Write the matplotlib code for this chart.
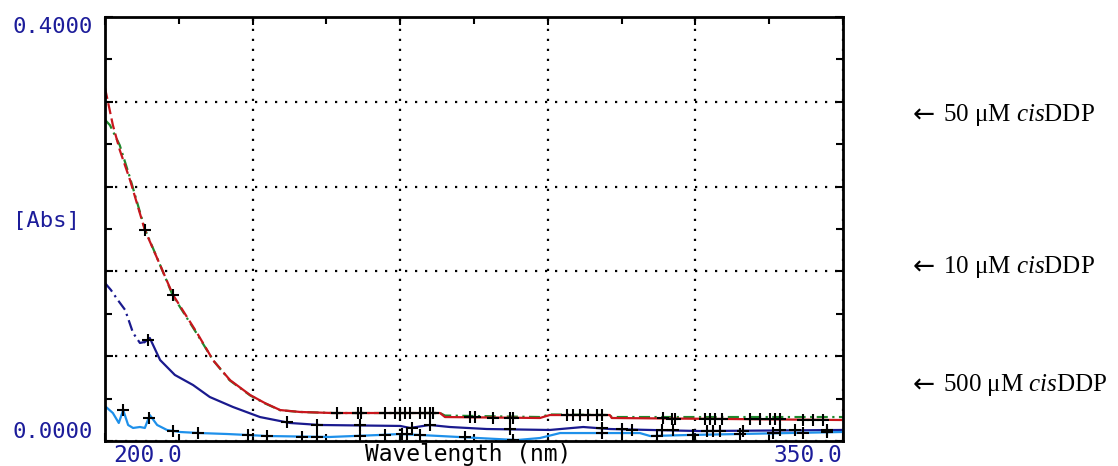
import numpy as np
import matplotlib
matplotlib.use('Agg')
import matplotlib.pyplot as plt

plt.rcParams['mathtext.fontset'] = 'custom'
plt.rcParams['mathtext.rm'] = 'Liberation Serif'
plt.rcParams['mathtext.it'] = 'Liberation Serif:italic'

# 50 uM cisDDP (red, and the green repeat underneath)
red_wl = [200.0, 200.6, 201.6, 203.0, 205.1, 208.1, 211.2, 213.8, 218.7, 222.0, 225.4, 229.5,
          232.5, 235.6, 239.6, 246.3, 268.1, 269.1, 288.4, 290.4, 302.6, 303.0, 350.0]
red_abs = [0.333, 0.320, 0.298, 0.2745, 0.246, 0.199, 0.166, 0.138, 0.102, 0.076, 0.0575, 0.0434,
           0.0358, 0.0292, 0.0274, 0.0264, 0.0264, 0.0226, 0.0217, 0.0245, 0.0245, 0.0217, 0.0198]
green_wl = [200.0, 201.0, 203.0, 205.1, 208.1, 211.2, 213.8, 218.7, 222.0, 225.4, 229.5, 232.5,
            235.6, 239.6, 246.3, 268.1, 269.1, 288.4, 290.4, 302.6, 303.0, 350.0]
green_abs = [0.303, 0.298, 0.279, 0.248, 0.200, 0.166, 0.137, 0.101, 0.076, 0.057, 0.043, 0.0355,
             0.029, 0.0274, 0.0264, 0.0264, 0.0240, 0.0226, 0.0250, 0.0245, 0.0226, 0.0226]
# 10 uM cisDDP
blue_wl = [200.0, 201.2, 202.6, 204.1, 205.7, 207.1, 208.1, 209.1, 211.2, 214.2, 217.9, 221.3, 226.0,
           231.5, 237.6, 243.7, 260.0, 262.0, 266.0, 270.1, 277.6, 290.4, 297.2, 302.6, 310.8, 320.9, 350.0]
blue_abs = [0.149, 0.1425, 0.133, 0.1236, 0.102, 0.0925, 0.0934, 0.0972, 0.0764, 0.0623, 0.0528, 0.0415,
            0.0321, 0.0226, 0.017, 0.0151, 0.0142, 0.0123, 0.0151, 0.0132, 0.0113, 0.0104, 0.0132,
            0.0113, 0.0104, 0.0094, 0.0104]
# 500 uM cisDDP
cyan_wl = [200.2, 201.6, 202.8, 203.7, 204.7, 205.7, 207.1, 208.1, 209.1, 210.6, 212.6, 215.2, 219.3,
           224.8, 228.9, 232.9, 245.7, 255.9, 260.0, 268.1, 283.7, 288.4, 292.5, 308.7, 310.8, 318.9, 350.0]
cyan_abs = [0.0321, 0.0264, 0.0170, 0.0292, 0.0151, 0.0123, 0.0132, 0.0123, 0.0245, 0.0151, 0.0104,
            0.0085, 0.0075, 0.0066, 0.0057, 0.0047, 0.0038, 0.0057, 0.0066, 0.0047, 0.0009, 0.0028,
            0.0075, 0.0075, 0.0047, 0.0057, 0.0085]

# '+' marks the instrument drew on each trace
red_marks = [208.1, 213.8, 247.2, 251.4, 252.0, 256.9, 258.9, 260.0, 261.0, 262.0, 264.0, 265.0, 266.1,
             266.7, 274.2, 275.2, 278.9, 282.3, 282.9, 293.9, 295.1, 296.5, 298.2, 300.0, 301.0, 313.4,
             315.2, 315.9, 322.0, 323.0, 324.0, 325.4, 331.1, 333.1, 335.2, 336.2, 337.2, 341.9, 343.9, 345.9]
blue_marks = [208.7, 237.0, 243.1, 251.8, 262.4, 266.1, 282.3, 301.0, 305.1, 307.1, 313.2, 315.4, 322.4,
              323.6, 325.0, 329.7, 337.2, 340.2, 346.7]
cyan_marks = [203.7, 208.9, 213.8, 218.9, 229.1, 232.9, 240.0, 243.1, 251.8, 256.9, 260.4, 261.4, 264.0,
              273.2, 282.9, 301.0, 312.2, 319.5, 329.1, 335.8, 341.9, 346.7]

y_labels = ['0.4000', '0.0000']
x_labels = ['200.0', '350.0']
notes = ['50', '10', '500']
note_y = [115, 267, 385]

blue_txt = '#1c1c9a'
W, H = 1118, 466

fig = plt.figure(figsize=(W / 100, H / 100), dpi=100)
ax = fig.add_axes([105 / W, 25 / H, 738 / W, 424 / H])


def split_plot(wl, ab, cut, color, style):
    wl = np.array(wl)
    ab = np.array(ab)
    m1 = wl <= cut
    m2 = wl >= wl[m1][-1]
    ax.plot(wl[m1], ab[m1], color=color, lw=1.6, ls=style)
    ax.plot(wl[m2], ab[m2], color=color, lw=1.6, ls='-')


ax.plot(green_wl, green_abs, color='#1f8a2e', lw=1.6, ls=(0, (5, 2, 1, 2)))
split_plot(red_wl, red_abs, 226.0, '#c8161d', (0, (5, 2)))
split_plot(blue_wl, blue_abs, 208.1, '#1a1a8e', (0, (5, 2, 1, 2)))
ax.plot(cyan_wl, cyan_abs, color='#1e90ea', lw=1.6)

for marks, wl, ab in [(red_marks, red_wl, red_abs), (blue_marks, blue_wl, blue_abs),
                      (cyan_marks, cyan_wl, cyan_abs)]:
    ax.plot(marks, np.interp(marks, wl, ab), '+', color='black', ms=9, mew=1.5)

ax.set_xlim(200, 350)
ax.set_ylim(0, 0.4)
ax.set_xticks(np.arange(200, 351, 30))
ax.set_xticks(np.arange(215, 350, 30), minor=True)
ax.set_yticks(np.arange(0, 0.41, 0.08))
ax.set_yticks(np.arange(0.04, 0.4, 0.08), minor=True)
ax.grid(True, which='major', color='black', ls=(0, (1, 3.5)), lw=1.6)
ax.tick_params(which='both', direction='in', top=True, right=True, labelbottom=False,
               labelleft=False, width=1.5, color='black')
ax.tick_params(which='major', length=6)
ax.tick_params(which='minor', length=5)
for s in ax.spines.values():
    s.set_linewidth(2)

mono = 'DejaVu Sans Mono'
fig.text(93 / W, 1 - 17 / H, y_labels[0], ha='right', va='top', family=mono, fontsize=16, color=blue_txt)
fig.text(93 / W, 1 - 442 / H, y_labels[1], ha='right', va='bottom', family=mono, fontsize=16, color=blue_txt)
fig.text(13 / W, 1 - 221 / H, '[Abs]', ha='left', va='center', family=mono, fontsize=16, color=blue_txt)
fig.text(113 / W, 1 - 455 / H, x_labels[0], ha='left', va='center', family=mono, fontsize=16.5, color=blue_txt)
fig.text(842 / W, 1 - 455 / H, x_labels[1], ha='right', va='center', family=mono, fontsize=16.5, color=blue_txt)
fig.text(468 / W, 1 - 455 / H, 'Wavelength (nm)', ha='center', va='center', family=mono, fontsize=16.5,
         color='black')

for n, y in zip(notes, note_y):
    fig.text(913 / W, 1 - (y + 1) / H, '←', ha='left', va='center', family='DejaVu Sans',
             fontsize=19, color='black')
    fig.text(943 / W, 1 - y / H, n + r' μM $\it{cis}$DDP', ha='left', va='center',
             family=['Liberation Serif', 'DejaVu Serif'], fontsize=18, color='black')

fig.savefig('out.png', dpi=100)
